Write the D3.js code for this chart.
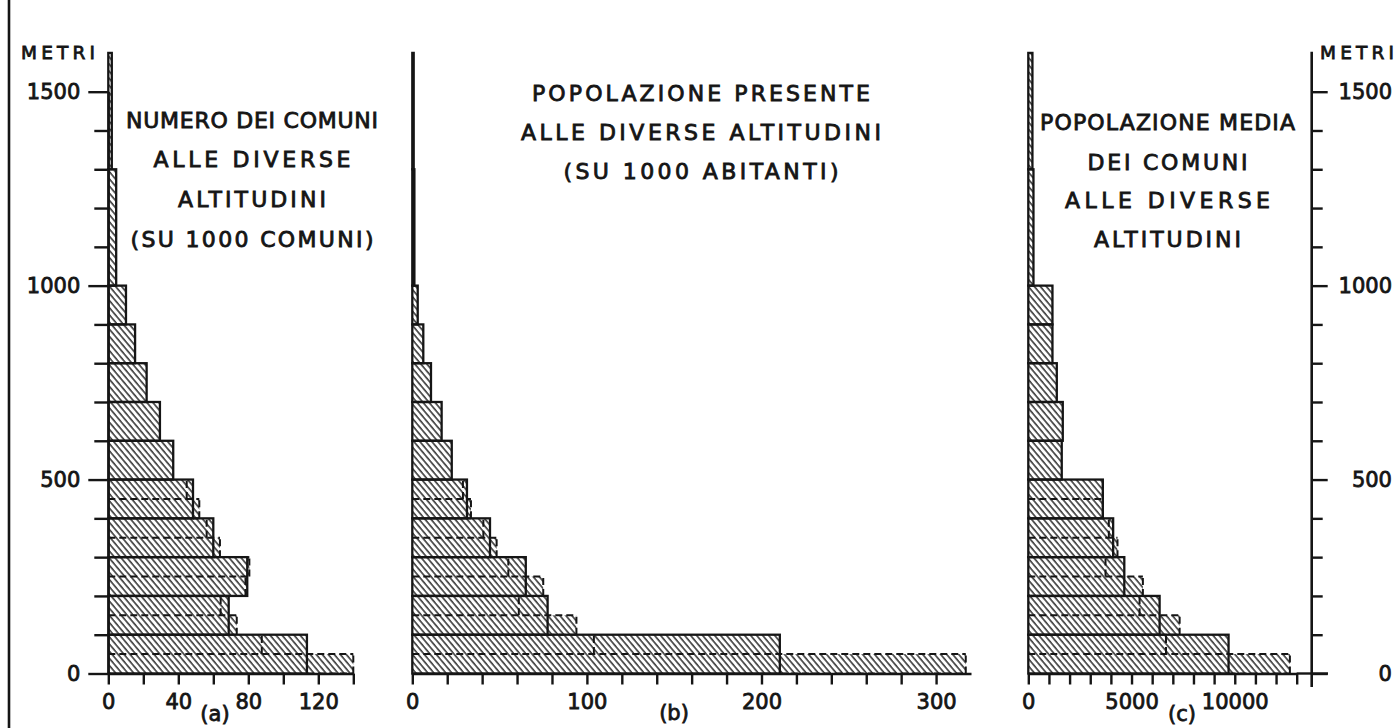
<!DOCTYPE html>
<html>
<head>
<meta charset="utf-8">
<script src="https://cdn.jsdelivr.net/npm/d3@7"></script>
<style>
  html, body { margin: 0; padding: 0; background: #fff; }
  svg { display: block; }
  text { font-family: "DejaVu Sans", "Liberation Sans", sans-serif; fill: #151515; }
</style>
</head>
<body>
<svg id="chart" width="1400" height="728"></svg>
<script>
// Altitude bands in metres: lower and upper edge of every bar
const bandLow  = [0, 100, 200, 300, 400, 500, 600, 700, 800, 900, 1000, 1300];
const bandHigh = [100, 200, 300, 400, 500, 600, 700, 800, 900, 1000, 1300, 1600];
// Bands below 500 m are also shown split into two 50 m halves
const splitBands = [0, 1, 2, 3, 4];

// (a) number of comuni at each altitude (per 1000 comuni)
const comuni     = [113.5, 68.8, 79.4, 60.0, 48.4, 37.1, 29.5, 21.9, 15.3, 10.1, 4.5, 2.0];
const comuniLow  = [140.0, 73.4, 78.4, 63.8, 52.0];   // lower 50 m half
const comuniHigh = [87.7, 64.2, 80.6, 56.2, 44.8];    // upper 50 m half

// (b) resident population at each altitude (per 1000 inhabitants)
const popolazione     = [210.5, 77.5, 65.0, 44.5, 31.3, 22.6, 16.8, 10.7, 6.3, 3.1, 1.2, 0.8];
const popolazioneLow  = [317.0, 94.0, 75.0, 48.3, 33.6];
const popolazioneHigh = [104.0, 61.0, 55.0, 40.7, 29.0];

// (c) mean population of the comuni at each altitude
const media     = [9700, 6360, 4650, 4110, 3610, 1620, 1670, 1380, 1170, 1170, 250, 200];
const mediaLow  = [12670, 7330, 5550, 4320, 3610];
const mediaHigh = [6670, 5390, 3740, 3900, 3610];

// Axis ticks and the ticks that carry a label
const altitudeTicks  = [0, 100, 200, 300, 400, 500, 600, 700, 800, 900, 1000, 1100, 1200, 1300, 1400, 1500];
const altitudeLabels = [0, 500, 1000, 1500];
const ticksA  = [0, 20, 40, 60, 80, 100, 120, 140];
const labelsA = [0, 40, 80, 120];
const ticksB  = [0, 20, 40, 60, 80, 100, 120, 140, 160, 180, 200, 220, 240, 260, 280, 300];
const labelsB = [0, 100, 200, 300];
const ticksC  = [0, 1000, 2000, 3000, 4000, 5000, 6000, 7000, 8000, 9000, 10000, 11000, 12000, 13000];
const labelsC = [0, 5000, 10000];

// Titles
const titleA = ["NUMERO DEI COMUNI", "ALLE DIVERSE", "ALTITUDINI", "(SU 1000 COMUNI)"];
const titleB = ["POPOLAZIONE PRESENTE", "ALLE DIVERSE ALTITUDINI", "(SU 1000 ABITANTI)"];
const titleC = ["POPOLAZIONE MEDIA", "DEI COMUNI", "ALLE DIVERSE", "ALTITUDINI"];
const unitLabel = "METRI";
const panelTags = ["(a)", "(b)", "(c)"];

const INK = "#151515";
const svg = d3.select("#chart");

// diagonal hatching used by every bar
const defs = svg.append("defs");
const pat = defs.append("pattern")
  .attr("id", "hatch")
  .attr("patternUnits", "userSpaceOnUse")
  .attr("width", 4.6).attr("height", 10)
  .attr("patternTransform", "rotate(-40)");
pat.append("rect").attr("width", 4.6).attr("height", 10).attr("fill", "#fff");
pat.append("line")
  .attr("x1", 1).attr("x2", 1).attr("y1", 0).attr("y2", 10)
  .attr("stroke", "#1c1c1c").attr("stroke-width", 1.4);

// shared altitude scale
const y = d3.scaleLinear().domain([0, 1500]).range([673.5, 91.7]);

const xA = d3.scaleLinear().domain([0, 140]).range([108.3, 353.3]);
const xB = d3.scaleLinear().domain([0, 320]).range([412.3, 971]);
const xC = d3.scaleLinear().domain([0, 13000]).range([1028.3, 1296.7]);

function drawBars(x, values, low, high) {
  const g = svg.append("g");
  const bars = bandLow.map((lo, i) => ({ lo, hi: bandHigh[i], v: values[i] }));
  const halves = splitBands.map(i => ({
    lo: bandLow[i], hi: bandHigh[i], mid: (bandLow[i] + bandHigh[i]) / 2,
    v: values[i], a: low[i], b: high[i]
  }));

  // hatched fill of the 50 m halves
  const halfRects = [];
  halves.forEach(h => {
    halfRects.push({ x1: h.a, top: h.mid, bot: h.lo });
    halfRects.push({ x1: h.b, top: h.hi, bot: h.mid });
  });
  g.selectAll("rect.half").data(halfRects).join("rect")
    .attr("class", "half")
    .attr("x", x(0)).attr("width", d => x(d.x1) - x(0))
    .attr("y", d => y(d.top)).attr("height", d => y(d.bot) - y(d.top))
    .attr("fill", "url(#hatch)");

  // hatched fill of the 100 m bars
  g.selectAll("rect.fill").data(bars).join("rect")
    .attr("class", "fill")
    .attr("x", x(0)).attr("width", d => Math.max(0, x(d.v) - x(0)))
    .attr("y", d => y(d.hi)).attr("height", d => y(d.lo) - y(d.hi))
    .attr("fill", "url(#hatch)");

  // dashed outlines of the halves
  const dashes = [];
  halves.forEach(h => {
    dashes.push({ x1: 0, x2: Math.max(h.a, h.b), y1: h.mid, y2: h.mid });
    dashes.push({ x1: h.a, x2: h.a, y1: h.lo, y2: h.mid });
    dashes.push({ x1: h.b, x2: h.b, y1: h.mid, y2: h.hi });
    if (h.a > h.v) dashes.push({ x1: h.v, x2: h.a, y1: h.lo, y2: h.lo });
    if (h.b > h.v) dashes.push({ x1: h.v, x2: h.b, y1: h.hi, y2: h.hi });
  });
  g.selectAll("line.dash").data(dashes).join("line")
    .attr("class", "dash")
    .attr("x1", d => x(d.x1)).attr("x2", d => x(d.x2))
    .attr("y1", d => y(d.y1)).attr("y2", d => y(d.y2))
    .attr("stroke", INK).attr("stroke-width", 2)
    .attr("stroke-dasharray", "7 4");

  // solid outlines of the 100 m bars
  g.selectAll("rect.edge").data(bars).join("rect")
    .attr("class", "edge")
    .attr("x", x(0)).attr("width", d => Math.max(0, x(d.v) - x(0)))
    .attr("y", d => y(d.hi)).attr("height", d => y(d.lo) - y(d.hi))
    .attr("fill", "none").attr("stroke", INK).attr("stroke-width", 2.3);
}

drawBars(xA, comuni, comuniLow, comuniHigh);
drawBars(xB, popolazione, popolazioneLow, popolazioneHigh);
drawBars(xC, media, mediaLow, mediaHigh);

// value axes along the bottom
function valueAxis(x, ticks, labels) {
  const g = svg.append("g").attr("transform", `translate(0,${y(0)})`)
    .call(d3.axisBottom(x).tickValues(ticks).tickSize(11).tickSizeOuter(0).tickPadding(10)
      .tickFormat(d => labels.includes(d) ? d3.format("d")(d) : ""));
  g.select(".domain").attr("stroke", INK).attr("stroke-width", 2.4);
  g.selectAll(".tick line").attr("stroke", INK).attr("stroke-width", 2.4);
  g.selectAll(".tick text").attr("font-size", 21).attr("fill", INK)
    .attr("stroke", INK).attr("stroke-width", 0.8);
  return g;
}
valueAxis(xA, ticksA, labelsA);
valueAxis(xB, ticksB, labelsB);
valueAxis(xC, ticksC, labelsC);

// baseline of (c) runs on to the right-hand altitude axis
svg.append("line")
  .attr("x1", xC.range()[1]).attr("x2", 1328)
  .attr("y1", y(0)).attr("y2", y(0))
  .attr("stroke", INK).attr("stroke-width", 2.4);

// left altitude axis
const leftAxis = svg.append("g").attr("transform", `translate(${xA(0)},0)`)
  .call(d3.axisLeft(y).tickValues(altitudeTicks).tickSize(14).tickSizeOuter(0).tickPadding(14)
    .tickFormat(d => altitudeLabels.includes(d) ? d : ""));
leftAxis.select(".domain").attr("stroke", INK).attr("stroke-width", 2.2);
leftAxis.selectAll(".tick line").attr("stroke", INK).attr("stroke-width", 2.4)
  .attr("x2", d => altitudeLabels.includes(d) ? -20 : -14);
leftAxis.selectAll(".tick text").attr("font-size", 21).attr("fill", INK)
  .attr("stroke", INK).attr("stroke-width", 0.8);

// right altitude axis
const rightX = 1311.7;
const rightAxis = svg.append("g").attr("transform", `translate(${rightX},0)`)
  .call(d3.axisRight(y).tickValues(altitudeTicks).tickSize(11).tickSizeOuter(0).tickPadding(10)
    .tickFormat(d => altitudeLabels.includes(d) ? d : ""));
rightAxis.select(".domain").remove();
rightAxis.append("line").attr("x1", 0).attr("x2", 0).attr("y1", 51.7).attr("y2", 687)
  .attr("stroke", INK).attr("stroke-width", 2.6);
rightAxis.selectAll(".tick line").attr("stroke", INK).attr("stroke-width", 2.4)
  .attr("x2", d => altitudeLabels.includes(d) ? 16 : 11);
rightAxis.selectAll(".tick text").attr("font-size", 21).attr("fill", INK)
  .attr("text-anchor", "end").attr("x", 1392 - rightX)
  .attr("stroke", INK).attr("stroke-width", 0.8);

// unit labels
[21, 1320].forEach(ux => {
  svg.append("text").attr("x", ux).attr("y", 59).attr("font-size", 18.5)
    .attr("textLength", 74).attr("lengthAdjust", "spacing")
    .attr("stroke", INK).attr("stroke-width", 0.8).text(unitLabel);
});

// panel tags under the value axes
const tagPos = [[215, 721], [674, 720], [1182, 721]];
panelTags.forEach((t, i) => {
  svg.append("text").attr("x", tagPos[i][0]).attr("y", tagPos[i][1])
    .attr("text-anchor", "middle").attr("font-size", 21)
    .attr("stroke", INK).attr("stroke-width", 0.8).text(t);
});

// titles
function title(lines, cx, baselines, widths) {
  lines.forEach((t, i) => {
    svg.append("text").attr("x", cx).attr("y", baselines[i])
      .attr("text-anchor", "middle").attr("font-size", 22)
      .attr("textLength", widths[i]).attr("lengthAdjust", "spacing")
      .attr("stroke", INK).attr("stroke-width", 0.85)
      .text(t);
  });
}
title(titleA, 252, [127.5, 167, 206.7, 246.7], [252, 197, 148, 243]);
title(titleB, 701, [101, 139.5, 178.5], [338, 360, 275]);
title(titleC, 1167.5, [130, 170, 208, 247], [255, 160, 205, 147]);

// frame line on the left edge
svg.append("line").attr("x1", 9).attr("x2", 9).attr("y1", 0).attr("y2", 728)
  .attr("stroke", INK).attr("stroke-width", 2.6);
</script>
</body>
</html>
